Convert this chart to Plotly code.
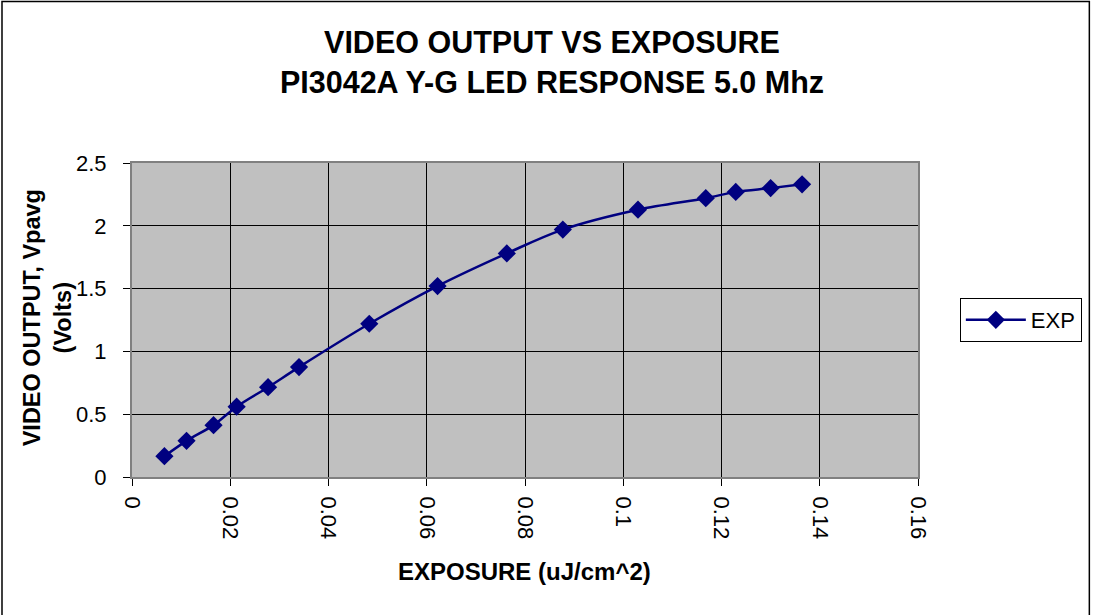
import plotly.graph_objects as go

exposure = [0.0066, 0.0111, 0.0166, 0.0213, 0.0277, 0.0340, 0.0483, 0.0622,
            0.0763, 0.0877, 0.1030, 0.1168, 0.1229, 0.1300, 0.1364]
video_out = [0.166, 0.288, 0.413, 0.560, 0.715, 0.875, 1.220, 1.520,
             1.780, 1.970, 2.128, 2.220, 2.270, 2.300, 2.330]
x_ticks = [0, 0.02, 0.04, 0.06, 0.08, 0.1, 0.12, 0.14, 0.16]
x_tick_labels = ["0", "0.02", "0.04", "0.06", "0.08", "0.1", "0.12", "0.14", "0.16"]
y_ticks = [0, 0.5, 1, 1.5, 2, 2.5]
y_tick_labels = ["0", "0.5", "1", "1.5", "2", "2.5"]

W, H = 1094, 615
L, R, T, B = 132, 173, 163, 138
pw, ph = W - L - R, H - T - B

def px_x(p):
    return (p - L) / pw

def px_y(p):
    return (H - B - p) / ph

navy = "#000080"
font = "Arial, Liberation Sans, sans-serif"

fig = go.Figure()
fig.add_trace(go.Scatter(
    x=exposure, y=video_out, name="EXP", mode="lines+markers",
    line=dict(color=navy, width=2.5, shape="spline"),
    marker=dict(symbol="diamond", size=14, color=navy),
))

fig.update_layout(
    width=W, height=H,
    margin=dict(l=L, r=R, t=T, b=B),
    paper_bgcolor="white",
    plot_bgcolor="#C0C0C0",
    font=dict(family=font, color="black"),
    title=dict(
        text="<b>VIDEO OUTPUT VS EXPOSURE<br>PI3042A Y-G LED RESPONSE 5.0 Mhz</b>",
        x=552 / W, xanchor="center", xref="container",
        y=1 - 53 / H, yanchor="middle", yref="container",
        font=dict(size=30.5, family=font, color="black"),
    ),
    xaxis=dict(
        range=[0, 0.16], tickvals=x_ticks, ticktext=x_tick_labels,
        tickangle=90, tickfont=dict(size=22), ticks="outside", ticklen=7,
        ticklabelstandoff=6,
        tickcolor="black", showgrid=True, gridcolor="black", gridwidth=1,
        showline=True, linecolor="#808080", linewidth=2, mirror=True,
        zeroline=False,
    ),
    yaxis=dict(
        range=[0, 2.5], tickvals=y_ticks, ticktext=y_tick_labels,
        tickfont=dict(size=22), ticks="outside", ticklen=7,
        ticklabelstandoff=12,
        tickcolor="black", showgrid=True, gridcolor="black", gridwidth=1,
        showline=True, linecolor="#808080", linewidth=2, mirror=True,
        zeroline=False,
    ),
    showlegend=True,
    legend=dict(
        x=px_x(963), y=px_y(298), xanchor="left", yanchor="top",
        bordercolor="black", borderwidth=1, bgcolor="white",
        font=dict(size=22, family=font, color="black"),
        itemwidth=60,
    ),
    annotations=[
        dict(text="<b>EXPOSURE (uJ/cm^2)</b>", xref="paper", yref="paper",
             x=px_x(526), y=px_y(571), xanchor="center", yanchor="middle",
             showarrow=False, font=dict(size=24, family=font, color="black")),
        dict(text="<b>VIDEO OUTPUT, Vpavg<br>(Volts)</b>", xref="paper", yref="paper",
             x=px_x(47), y=px_y(318), xanchor="center", yanchor="middle",
             textangle=-90, showarrow=False,
             font=dict(size=23.5, family=font, color="black")),
    ],
    shapes=[
        dict(type="rect", xref="paper", yref="paper",
             x0=px_x(1.5), x1=px_x(1093), y0=px_y(1.5), y1=px_y(640),
             line=dict(color="black", width=1.5), fillcolor="rgba(0,0,0,0)",
             layer="below"),
    ],
)

fig.write_html("out.html", config={"displayModeBar": False},
               post_script="document.body.style.margin='0';")
